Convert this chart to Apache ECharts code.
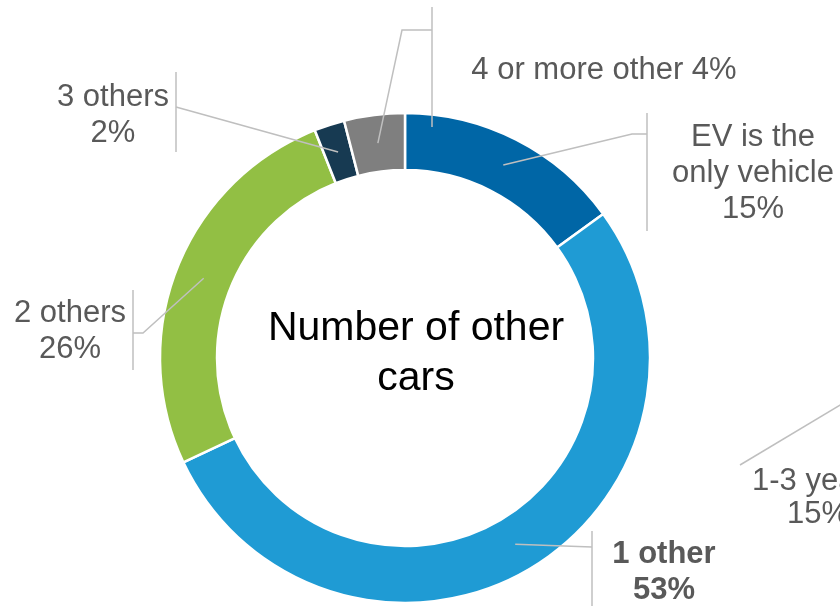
<!DOCTYPE html>
<html>
<head>
<meta charset="utf-8">
<script src="https://cdn.jsdelivr.net/npm/echarts@6/dist/echarts.min.js"></script>
<style>
  html, body { margin: 0; padding: 0; background: #ffffff; }
  #chart { width: 840px; height: 606px; }
</style>
</head>
<body>
<div id="chart"></div>
<script>
// Share of EV owners by number of other cars in the household (%)
const categories = ['EV is the\nonly vehicle', '1 other', '2 others', '3 others', '4 or more other'];
const shares = [15, 53, 26, 2, 4];
const sliceColors = ['#0066a6', '#1f9bd4', '#92bf44', '#173a52', '#7f7f7f'];
const centerTitle = 'Number of other\ncars';
// label of the neighbouring ring, cut by the right edge
const neighbourLabel = ['1-3 years', '15%'];

const FONT = "'Liberation Sans', Arial, sans-serif";
const CX = 405, CY = 358, R_IN = 188, R_OUT = 245;
const LINE_COLOR = '#bfbfbf';

// label anchors and leader-line routing for each slice
const labelSpots = [
  { x: 753, y: 173, bend: [[632, 134], [647, 134]], bracket: [113, 231] },
  { x: 664, y: 572, bend: [[592, 547]], bracket: [531, 612] },
  { x: 70,  y: 331, bend: [[143, 333], [133, 333]], bracket: [290, 370] },
  { x: 113, y: 115, bend: [[176, 107]], bracket: [72, 152] },
  { x: 604, y: 70,  bend: [[402, 30], [432, 30]], bracket: [7, 127] }
];

// mid angle of every slice, clockwise from 12 o'clock
const total = shares.reduce((a, b) => a + b, 0);
let running = 0;
const midAngles = shares.map(v => {
  const m = (running + v / 2) / total * 2 * Math.PI;
  running += v;
  return m;
});

// leader lines: from the middle of the ring through the bends to a bracket beside the label
const leaderLines = labelSpots.map((s, i) => {
  const rm = (R_IN + R_OUT) / 2;
  const start = [CX + rm * Math.sin(midAngles[i]), CY - rm * Math.cos(midAngles[i])];
  const last = s.bend[s.bend.length - 1];
  return [
    {
      type: 'polyline', z: 100, silent: true,
      shape: { points: [start].concat(s.bend) },
      style: { stroke: LINE_COLOR, lineWidth: 1.5, fill: null }
    },
    {
      type: 'line', z: 100, silent: true,
      shape: { x1: last[0], y1: s.bracket[0], x2: last[0], y2: s.bracket[1] },
      style: { stroke: LINE_COLOR, lineWidth: 1.5 }
    }
  ];
}).flat();

const chart = echarts.init(document.getElementById('chart'), null, { renderer: 'canvas' });

chart.setOption({
  animation: false,
  backgroundColor: '#ffffff',
  series: [{
    type: 'pie',
    center: [CX, CY],
    radius: [R_IN, R_OUT],
    startAngle: 90,
    clockwise: true,
    avoidLabelOverlap: false,
    silent: true,
    itemStyle: { borderColor: '#ffffff', borderWidth: 2.5 },
    label: {
      show: true,
      position: 'outside',
      color: '#595959',
      fontFamily: FONT,
      fontSize: 31,
      lineHeight: 36,
      align: 'center',
      formatter: p => p.dataIndex === 4 ? p.name + ' ' + p.value + '%' : p.name + '\n' + p.value + '%'
    },
    labelLine: { show: false },
    labelLayout: p => {
      const s = labelSpots[p.dataIndex];
      return { x: s.x, y: s.y, align: 'center', verticalAlign: 'middle' };
    },
    emphasis: { disabled: true },
    data: categories.map((name, i) => ({
      name: name,
      value: shares[i],
      itemStyle: { color: sliceColors[i] },
      label: i === 1 ? { fontWeight: 'bold' } : undefined
    }))
  }],
  graphic: leaderLines.concat([
    {
      type: 'text',
      x: 416,
      y: 354,
      z: 100,
      silent: true,
      style: {
        text: centerTitle,
        fill: '#000000',
        font: '41px ' + FONT,
        lineHeight: 50,
        align: 'center',
        verticalAlign: 'middle'
      }
    },
    {
      type: 'line',
      z: 100,
      silent: true,
      shape: { x1: 740, y1: 465, x2: 862, y2: 392 },
      style: { stroke: LINE_COLOR, lineWidth: 1.5 }
    },
    {
      type: 'text',
      x: 752,
      y: 481,
      z: 100,
      silent: true,
      style: { text: neighbourLabel[0], fill: '#595959', font: '31px ' + FONT, align: 'left', verticalAlign: 'middle' }
    },
    {
      type: 'text',
      x: 787,
      y: 514,
      z: 100,
      silent: true,
      style: { text: neighbourLabel[1], fill: '#595959', font: '31px ' + FONT, align: 'left', verticalAlign: 'middle' }
    }
  ])
});
</script>
</body>
</html>
